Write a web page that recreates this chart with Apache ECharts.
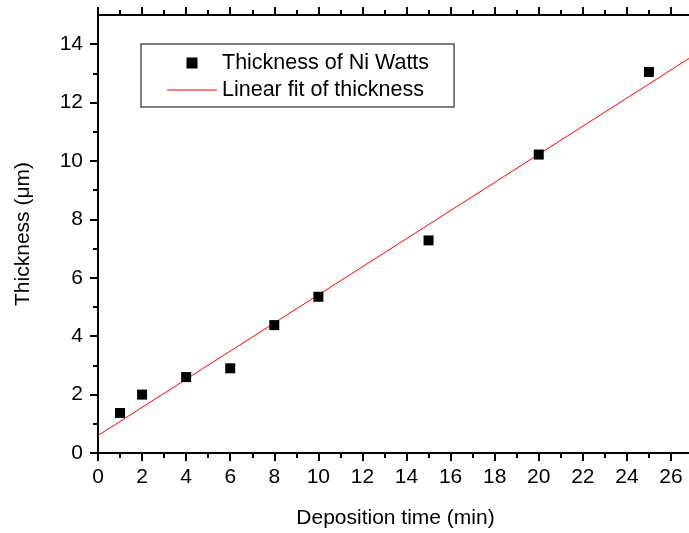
<!DOCTYPE html>
<html>
<head>
<meta charset="utf-8">
<script src="https://cdn.jsdelivr.net/npm/echarts@6/dist/echarts.min.js"></script>
<style>
    html, body { margin: 0; padding: 0; background: #fff; }
    #main { width: 689px; height: 533px; }
</style>
</head>
<body>
<div id="main"></div>
<script>
// measured thickness (um) vs deposition time (min)
var timeMin = [1, 2, 4, 6, 8, 10, 15, 20, 25];
var thickness = [1.37, 2.0, 2.6, 2.9, 4.38, 5.35, 7.28, 10.22, 13.05];
// linear fit, end points
var fitTime = [0, 27];
var fitThickness = [0.6, 13.6];
var xTicks = [0, 2, 4, 6, 8, 10, 12, 14, 16, 18, 20, 22, 24, 26];
var yTicks = [0, 2, 4, 6, 8, 10, 12, 14];

~function () {
    var myChart = echarts.init(document.getElementById('main'));
    var font = 'Liberation Sans';
    var axisLine = {lineStyle: {color: '#000', width: 2}};
    var tick = {inside: false, length: 8, lineStyle: {color: '#000', width: 2}};
    var minor = {show: true, splitNumber: 2, length: 5, lineStyle: {color: '#000', width: 2}};
    var label = {color: '#000', fontFamily: font, fontSize: 21};

    var option = {
        animation: false,
        backgroundColor: '#fff',
        grid: {left: 98, top: 15, right: -4, bottom: 80, containLabel: false, outerBoundsMode: 'none'},
        legend: {
            left: 141,
            top: 44,
            orient: 'vertical',
            itemWidth: 50,
            itemHeight: 11,
            itemGap: 5,
            padding: [8, 25, 6, 26],
            borderColor: '#555',
            borderWidth: 1.5,
            borderRadius: 0,
            symbolKeepAspect: true,
            textStyle: {color: '#000', fontFamily: font, fontSize: 21.5},
            data: [
                {name: 'Thickness of Ni Watts', icon: 'path://M0,0h10v10h-10z'},
                {name: 'Linear fit of thickness', icon: 'path://M0,0h47v1h-47z'}
            ]
        },
        xAxis: [
            {
                type: 'value',
                min: 0,
                max: 27,
                interval: 2,
                name: 'Deposition time (min)',
                nameLocation: 'middle',
                nameGap: 55,
                nameTextStyle: {color: '#000', fontFamily: font, fontSize: 21},
                axisLine: axisLine,
                axisTick: Object.assign({customValues: xTicks}, tick),
                minorTick: minor,
                axisLabel: Object.assign({margin: 14, customValues: xTicks}, label),
                splitLine: {show: false}
            },
            {
                type: 'value',
                position: 'top',
                min: 0,
                max: 27,
                interval: 2,
                axisLine: axisLine,
                axisTick: Object.assign({customValues: xTicks}, tick),
                minorTick: minor,
                axisLabel: {show: false},
                splitLine: {show: false}
            }
        ],
        yAxis: {
            type: 'value',
            min: 0,
            max: 15,
            interval: 2,
            name: 'Thickness (μm)',
            nameLocation: 'middle',
            nameGap: 64,
            nameTextStyle: {color: '#000', fontFamily: font, fontSize: 21},
            axisLine: axisLine,
            axisTick: Object.assign({customValues: yTicks}, tick),
            minorTick: minor,
            axisLabel: Object.assign({margin: 15, customValues: yTicks}, label),
            splitLine: {show: false}
        },
        series: [
            {
                name: 'Thickness of Ni Watts',
                type: 'scatter',
                symbol: 'rect',
                symbolSize: 10,
                itemStyle: {color: '#000', opacity: 1},
                data: timeMin.map(function (t, i) { return [t, thickness[i]]; }),
                z: 3
            },
            {
                name: 'Linear fit of thickness',
                type: 'line',
                symbol: 'none',
                lineStyle: {color: '#ff0000', width: 1},
                itemStyle: {color: '#ff0000'},
                data: fitTime.map(function (t, i) { return [t, fitThickness[i]]; }),
                z: 2
            }
        ]
    };
    myChart.setOption(option);
}();
</script>
</body>
</html>
